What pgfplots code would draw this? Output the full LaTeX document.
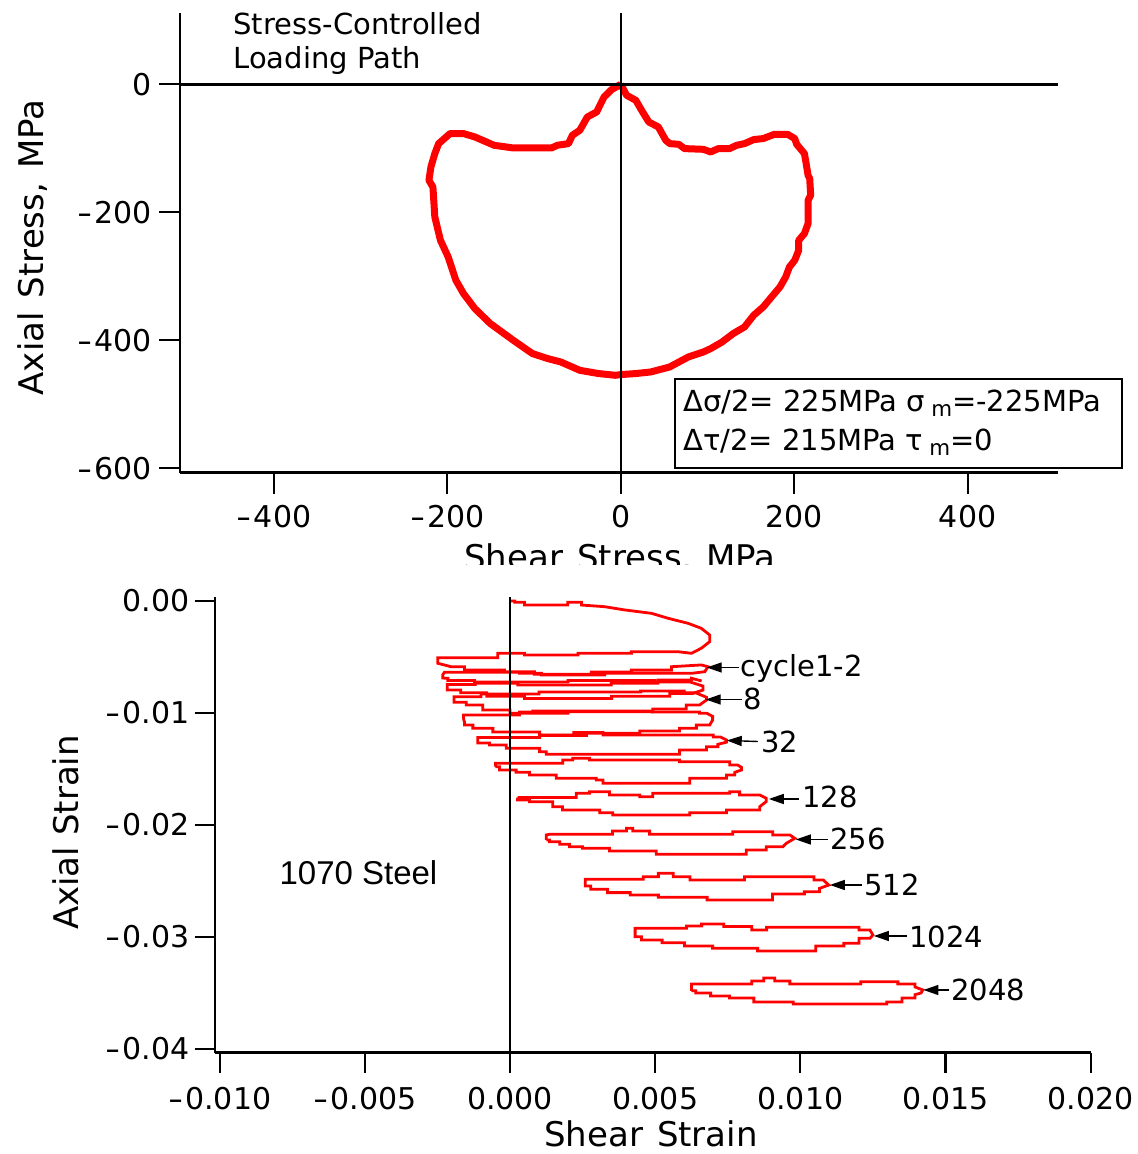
\documentclass[border=0pt]{standalone}
\usepackage{fontspec}
\setmainfont{DejaVu Sans}
\newfontfamily\steelfont{Liberation Sans}
\usepackage{graphicx}
\usepackage{pgfplots}
\pgfplotsset{compat=1.18}
\usetikzlibrary{arrows.meta}
% wide minus used in the tick labels
\newcommand{\mn}{\scalebox{1.4}[1]{-}\kern1pt}
\newcommand{\tfont}{\fontsize{15}{18}\selectfont}
\newcommand{\lfont}{\fontsize{17}{20}\selectfont}
\newcommand{\afont}{\fontsize{14.5}{17}\selectfont}
\begin{document}
\begin{tikzpicture}
\useasboundingbox (0pt,0pt) rectangle (568.5pt,577pt);

% ---------------- stress path ----------------
\begin{axis}[
  at={(90pt,340.65pt)}, anchor=south west,
  scale only axis, width=438.75pt, height=230pt,
  xmin=-508.4, xmax=503.7, ymin=-606.9, ymax=111.9,
  axis x line*=bottom, axis y line*=left,
  axis line style={line width=1.3pt},
  tick align=outside, major tick length=10.5pt,
  tick style={line width=1.1pt,black},
  xtick={-400,-200,0,200,400},
  xticklabels={\mn400,\mn200,0,200,400},
  ytick={-600,-400,-200,0},
  yticklabels={\mn600,\mn400,\mn200,0},
  tick label style={font=\tfont},
  xticklabel style={yshift=-2pt},
  clip=false,
]
\addplot[red, line width=3.5pt, line join=round] coordinates {
(0,0) (6.7,-17.2) (17.3,-25) (24,-40.6) (32.3,-58.9) (43.3,-66.7) (51.9,-87.5)
(56.5,-92.7) (66.9,-93.8) (73.5,-100.5) (95.2,-101.6) (103.7,-105.8) (112.4,-100.5)
(125.4,-100.5) (133.7,-95.3) (142.7,-92.7) (153.3,-86.4) (164.3,-84.8) (177.2,-78.1)
(192.3,-78.1) (200.6,-84.8) (202.9,-93.8) (211.8,-108.3) (213.8,-123.9) (216,-142.2)
(217.9,-147.3) (219,-173.4) (216,-181.3) (216,-217.7) (211.8,-233.3) (205.2,-243.8)
(205.2,-259.4) (200.6,-275) (194.5,-285.5) (190.2,-301.1) (183.6,-316.7) (177.2,-327)
(164.3,-347.9) (153.3,-360.9) (142.7,-379.2) (129.7,-389.5) (116.8,-402.7) (103.7,-413)
(95.2,-418.3) (77.9,-426.1) (56.4,-441.7) (34.6,-449.5) (17.3,-452) (0.2,-453.6)
(-6.3,-454.7) (-25.7,-452) (-47.3,-446.9) (-69.2,-433.9) (-84.3,-428.6) (-101.9,-420.8)
(-124,-400) (-150.5,-373.9) (-168.3,-350.5) (-181.4,-327) (-190.2,-306.3) (-199.1,-269.8)
(-208,-243.8) (-214.5,-207.3) (-216.7,-160.5) (-221.3,-150) (-219,-129.2) (-214.5,-108.3)
(-210.1,-92.7) (-196.9,-77) (-181.4,-77) (-168.3,-82.3) (-146.1,-95.3) (-124,-99.5)
(-79.9,-99.5) (-73.2,-95.3) (-60.3,-92.7) (-55.9,-79.7) (-47.3,-71.9) (-38.6,-51.1)
(-27.9,-43.3) (-19.3,-19.8) (-10.6,-8.3) (0,0)};
\addplot[black, line width=1.1pt] coordinates {(0,-606.9) (0,111.9)};
\addplot[black, line width=1.3pt] coordinates {(-508.4,0) (503.7,0)};
\end{axis}

% labels of the stress path
\node[rotate=90, font=\lfont] at (16.5pt,453.25pt) {Axial\hspace{7pt}Stress,\hspace{7pt}MPa};
\begin{scope}
  \clip (200pt,294.5pt) rectangle (420pt,320pt);
  \node[anchor=base, font=\lfont] at (310pt,292pt) {Shear\hspace{7pt}Stress,\hspace{7pt}MPa};
\end{scope}
\node[anchor=base west, inner sep=0pt, font=\afont] at (116.5pt,559.85pt) {Stress-Controlled};
\node[anchor=base west, inner sep=0pt, font=\afont] at (116.5pt,542.85pt) {Loading Path};
\draw[line width=1pt, fill=white] (337.5pt,343pt) rectangle (561pt,387.5pt);
\node[anchor=base west, inner sep=0pt, font=\afont] at (341.5pt,371pt)
  {Δσ/2= 225MPa σ\kern3pt\raisebox{-2.3pt}{\fontsize{10.7}{12}\selectfont m}=-225MPa};
\node[anchor=base west, inner sep=0pt, font=\afont] at (341.5pt,351.5pt)
  {Δτ/2= 215MPa τ\kern3pt\raisebox{-2.3pt}{\fontsize{10.7}{12}\selectfont m}=0};

% ---------------- strain response ----------------
\begin{axis}[
  at={(107.3pt,50.75pt)}, anchor=south west,
  scale only axis, width=438pt, height=227.75pt,
  xmin=-0.010176, xmax=0.0200, ymin=-0.040313, ymax=0.000357,
  axis x line*=bottom, axis y line*=left,
  axis line style={line width=1.1pt},
  x axis line style={line width=1.3pt},
  tick align=outside, major tick length=10pt,
  tick style={line width=1.1pt,black},
  scaled ticks=false,
  xtick={-0.01,-0.005,0,0.005,0.01,0.015,0.02},
  xticklabels={\mn0.010,\mn0.005,0.000,0.005,0.010,0.015,0.020},
  ytick={-0.04,-0.03,-0.02,-0.01,0},
  yticklabels={\mn0.04,\mn0.03,\mn0.02,\mn0.01,0.00},
  tick label style={font=\tfont},
  xticklabel style={yshift=-4pt},
  yticklabel style={xshift=1pt},
  clip=false,
]
% cycles 1-2
\addplot[red, line width=1.4pt] coordinates {
(0,0) (0.00016,0) (0.00016,-0.00012) (0.00050,-0.00012) (0.00050,-0.00036) (0.00199,-0.00036)
(0.00199,-0.00012) (0.00246,-0.00012) (0.00246,-0.00036) (0.00326,-0.00051) (0.00395,-0.00080)
(0.00487,-0.00110) (0.00544,-0.00154) (0.00613,-0.00199) (0.00659,-0.00244) (0.00688,-0.00304)
(0.00688,-0.00363) (0.00659,-0.00422) (0.00625,-0.00467) (0.00579,-0.00453) (0.00418,-0.00453)
(0.00418,-0.00467) (0.00234,-0.00467) (0.00234,-0.00482) (0.00050,-0.00482) (0.00050,-0.00467)
(-0.00042,-0.00467) (-0.00042,-0.00506) (-0.00249,-0.00506) (-0.00249,-0.00556) (-0.00203,-0.00587)
(-0.00157,-0.00587) (-0.00157,-0.00616) (-0.00019,-0.00616) (-0.00019,-0.00631) (0.00084,-0.00631)
(0.00084,-0.00654) (0.00280,-0.00654) (0.00280,-0.00635) (0.00418,-0.00635) (0.00418,-0.00616)
(0.00556,-0.00616) (0.00556,-0.00587) (0.00659,-0.00571) (0.00682,-0.00587) (0.00671,-0.00631)
(0.00625,-0.00646) (0.00326,-0.00646) (0.00326,-0.00661) (0.00108,-0.00661) (0.00108,-0.00646)
(0.00033,-0.00646) (0.00033,-0.00637) (-0.00226,-0.00637) (-0.00232,-0.00661) (-0.00232,-0.00688)
(-0.00214,-0.00690) (-0.00214,-0.00710) (-0.00122,-0.00710) (-0.00122,-0.00735) (0.00027,-0.00735)
(0.00027,-0.00750) (0.00349,-0.00750) (0.00349,-0.00735) (0.00510,-0.00735) (0.00510,-0.00705)
(0.00625,-0.00705) (0.00625,-0.00690) (0.00660,-0.00714)};
% cycle 4
\addplot[red, line width=1.4pt] coordinates {
(-0.00216,-0.00770) (-0.00216,-0.00745) (-0.00120,-0.00745) (-0.00120,-0.00723) (0.00200,-0.00723)
(0.00200,-0.00710) (0.00500,-0.00710) (0.00500,-0.00723) (0.00620,-0.00723) (0.00665,-0.00760)
(0.00665,-0.00795) (0.00630,-0.00825) (0.00550,-0.00825) (0.00550,-0.00850) (0.00350,-0.00850)
(0.00350,-0.00870) (0.00050,-0.00870) (0.00050,-0.00850) (-0.00080,-0.00850) (-0.00080,-0.00820)
(-0.00170,-0.00820) (-0.00170,-0.00795) (-0.00216,-0.00795) (-0.00216,-0.00770)};
% cycle 8
\addplot[red, line width=1.4pt] coordinates {
(-0.00193,-0.00895) (-0.00193,-0.00855) (-0.00100,-0.00855) (-0.00100,-0.00830) (0.00100,-0.00830)
(0.00100,-0.00813) (0.00450,-0.00813) (0.00450,-0.00804) (0.00600,-0.00804) (0.00600,-0.00820)
(0.00640,-0.00820) (0.00677,-0.00860) (0.00677,-0.00884) (0.00653,-0.00929) (0.00607,-0.00929)
(0.00607,-0.00964) (0.00492,-0.00964) (0.00492,-0.00988) (0.00200,-0.00988) (0.00200,-0.01003)
(0.00000,-0.01003) (0.00000,-0.00973) (-0.00094,-0.00973) (-0.00094,-0.00929) (-0.00151,-0.00929)
(-0.00151,-0.00905) (-0.00193,-0.00905) (-0.00193,-0.00895)};
% cycle 16
\addplot[red, line width=1.4pt] coordinates {
(-0.00160,-0.01055) (-0.00160,-0.01018) (0.00033,-0.01018) (0.00033,-0.00991) (0.00078,-0.00991)
(0.00078,-0.00982) (0.00491,-0.00982) (0.00491,-0.00991) (0.00653,-0.00991) (0.00653,-0.01003)
(0.00678,-0.01003) (0.00698,-0.01030) (0.00698,-0.01063) (0.00688,-0.01107) (0.00642,-0.01107)
(0.00642,-0.01137) (0.00584,-0.01137) (0.00584,-0.01161) (0.00447,-0.01161) (0.00447,-0.01181)
(0.00263,-0.01181) (0.00263,-0.01200) (0.00102,-0.01200) (0.00102,-0.01170) (-0.00059,-0.01170)
(-0.00059,-0.01137) (-0.00128,-0.01137) (-0.00128,-0.01107) (-0.00157,-0.01107) (-0.00157,-0.01078)
(-0.00160,-0.01055)};
% cycle 32
\addplot[red, line width=1.4pt] coordinates {
(-0.00111,-0.01245) (-0.00111,-0.01219) (0.00102,-0.01219) (0.00102,-0.01196) (0.00220,-0.01196)
(0.00220,-0.01175) (0.00320,-0.01175) (0.00320,-0.01196) (0.00700,-0.01196) (0.00700,-0.01214)
(0.00725,-0.01214) (0.00746,-0.01241) (0.00746,-0.01260) (0.00716,-0.01280) (0.00716,-0.01301)
(0.00677,-0.01301) (0.00677,-0.01330) (0.00584,-0.01330) (0.00584,-0.01369) (0.00125,-0.01369)
(0.00125,-0.01346) (0.00102,-0.01346) (0.00102,-0.01315) (-0.00013,-0.01315) (-0.00013,-0.01286)
(-0.00071,-0.01286) (-0.00071,-0.01268) (-0.00111,-0.01268) (-0.00111,-0.01245)};
% cycle 64
\addplot[red, line width=1.4pt] coordinates {
(-0.00050,-0.01480) (-0.00050,-0.01449) (0.00182,-0.01449) (0.00182,-0.01420) (0.00216,-0.01420)
(0.00216,-0.01404) (0.00274,-0.01404) (0.00274,-0.01420) (0.00584,-0.01420) (0.00584,-0.01435)
(0.00757,-0.01435) (0.00757,-0.01464) (0.00784,-0.01464) (0.00797,-0.01485) (0.00797,-0.01509)
(0.00774,-0.01530) (0.00774,-0.01554) (0.00746,-0.01554) (0.00746,-0.01583) (0.00619,-0.01583)
(0.00619,-0.01628) (0.00320,-0.01628) (0.00320,-0.01598) (0.00297,-0.01598) (0.00297,-0.01583)
(0.00159,-0.01583) (0.00159,-0.01554) (0.00067,-0.01554) (0.00067,-0.01530) (0.00021,-0.01530)
(0.00021,-0.01509) (-0.00036,-0.01509) (-0.00036,-0.01480) (-0.00050,-0.01480)};
% cycle 128
\addplot[red, line width=1.4pt] coordinates {
(0.00026,-0.01755) (0.00228,-0.01755) (0.00228,-0.01717) (0.00274,-0.01717) (0.00274,-0.01703)
(0.00343,-0.01703) (0.00343,-0.01732) (0.00447,-0.01732) (0.00447,-0.01747) (0.00492,-0.01747)
(0.00492,-0.01717) (0.00757,-0.01717) (0.00757,-0.01703) (0.00791,-0.01703) (0.00791,-0.01732)
(0.00860,-0.01732) (0.00883,-0.01762) (0.00883,-0.01790) (0.00860,-0.01837) (0.00860,-0.01866)
(0.00746,-0.01866) (0.00746,-0.01890) (0.00619,-0.01890) (0.00619,-0.01911) (0.00354,-0.01911)
(0.00354,-0.01890) (0.00309,-0.01890) (0.00309,-0.01866) (0.00181,-0.01866) (0.00181,-0.01837)
(0.00147,-0.01837) (0.00147,-0.01792) (0.00067,-0.01792) (0.00067,-0.01777) (0.00026,-0.01777)
(0.00026,-0.01755)};
% cycle 256
\addplot[red, line width=1.4pt] coordinates {
(0.00125,-0.02134) (0.00125,-0.02089) (0.00136,-0.02083) (0.00353,-0.02083) (0.00353,-0.02054)
(0.00401,-0.02054) (0.00401,-0.02029) (0.00423,-0.02029) (0.00423,-0.02054) (0.00481,-0.02054)
(0.00481,-0.02083) (0.00767,-0.02083) (0.00767,-0.02060) (0.00905,-0.02060) (0.00905,-0.02089)
(0.00964,-0.02089) (0.00981,-0.02119) (0.00952,-0.02163) (0.00940,-0.02194) (0.00883,-0.02194)
(0.00883,-0.02223) (0.00814,-0.02223) (0.00814,-0.02262) (0.00504,-0.02262) (0.00504,-0.02232)
(0.00343,-0.02232) (0.00343,-0.02208) (0.00250,-0.02208) (0.00250,-0.02194) (0.00205,-0.02194)
(0.00205,-0.02172) (0.00171,-0.02172) (0.00171,-0.02149) (0.00136,-0.02149) (0.00136,-0.02134)
(0.00125,-0.02134)};
% cycle 512
\addplot[red, line width=1.4pt] coordinates {
(0.00259,-0.02536) (0.00259,-0.02485) (0.00459,-0.02485) (0.00459,-0.02462) (0.00511,-0.02462)
(0.00511,-0.02431) (0.00562,-0.02431) (0.00562,-0.02462) (0.00620,-0.02462) (0.00620,-0.02491)
(0.00808,-0.02491) (0.00808,-0.02462) (0.01047,-0.02462) (0.01047,-0.02491) (0.01079,-0.02491)
(0.01098,-0.02536) (0.01066,-0.02566) (0.01066,-0.02596) (0.01014,-0.02596) (0.01014,-0.02616)
(0.00904,-0.02616) (0.00904,-0.02670) (0.00679,-0.02670) (0.00679,-0.02646) (0.00511,-0.02646)
(0.00511,-0.02625) (0.00414,-0.02625) (0.00414,-0.02604) (0.00336,-0.02604) (0.00336,-0.02574)
(0.00278,-0.02574) (0.00278,-0.02545) (0.00259,-0.02545) (0.00259,-0.02536)};
% cycle 1024
\addplot[red, line width=1.4pt] coordinates {
(0.00431,-0.02982) (0.00431,-0.02922) (0.00608,-0.02922) (0.00608,-0.02902) (0.00660,-0.02902)
(0.00660,-0.02884) (0.00736,-0.02884) (0.00736,-0.02907) (0.00833,-0.02907) (0.00833,-0.02938)
(0.00884,-0.02938) (0.00884,-0.02913) (0.01202,-0.02913) (0.01202,-0.02938) (0.01240,-0.02938)
(0.01250,-0.02982) (0.01240,-0.03012) (0.01202,-0.03012) (0.01202,-0.03056) (0.01150,-0.03056)
(0.01150,-0.03080) (0.01053,-0.03080) (0.01053,-0.03125) (0.00853,-0.03125) (0.00853,-0.03101)
(0.00698,-0.03101) (0.00698,-0.03080) (0.00601,-0.03080) (0.00601,-0.03051) (0.00524,-0.03051)
(0.00524,-0.03027) (0.00453,-0.03027) (0.00453,-0.02997) (0.00431,-0.02997) (0.00431,-0.02982)};
% cycle 2048
\addplot[red, line width=1.4pt] coordinates {
(0.00625,-0.03480) (0.00625,-0.03420) (0.00833,-0.03420) (0.00833,-0.03393) (0.00874,-0.03393)
(0.00874,-0.03366) (0.00912,-0.03366) (0.00912,-0.03393) (0.00964,-0.03393) (0.00964,-0.03420)
(0.01208,-0.03420) (0.01208,-0.03400) (0.01336,-0.03400) (0.01336,-0.03420) (0.01395,-0.03420)
(0.01395,-0.03446) (0.01422,-0.03473) (0.01416,-0.03500) (0.01395,-0.03515) (0.01395,-0.03545)
(0.01350,-0.03545) (0.01350,-0.03580) (0.01298,-0.03580) (0.01298,-0.03598) (0.00976,-0.03598)
(0.00976,-0.03580) (0.00840,-0.03580) (0.00840,-0.03545) (0.00756,-0.03545) (0.00756,-0.03527)
(0.00691,-0.03527) (0.00691,-0.03500) (0.00640,-0.03500) (0.00640,-0.03480) (0.00625,-0.03480)};
\addplot[black, line width=1pt] coordinates {(0,-0.040313) (0,0.000357)};

% cycle markers
\tikzset{cyc/.style={-{Triangle[length=7.5pt,width=5pt]}, line width=0.7pt, black}}
\draw[cyc] (axis cs:0.007879,-0.005938) -- (axis cs:0.006776,-0.005938);
\draw[cyc] (axis cs:0.007983,-0.008795) -- (axis cs:0.006741,-0.008795);
\draw[cyc] (axis cs:0.008534,-0.012545) -- (axis cs:0.007466,-0.012455);
\draw[cyc] (axis cs:0.009948,-0.017679) -- (axis cs:0.008914,-0.017679);
\draw[cyc] (axis cs:0.010948,-0.021295) -- (axis cs:0.009845,-0.021295);
\draw[cyc] (axis cs:0.012121,-0.025357) -- (axis cs:0.011017,-0.025357);
\draw[cyc] (axis cs:0.013672,-0.029911) -- (axis cs:0.012534,-0.029911);
\draw[cyc] (axis cs:0.015121,-0.034732) -- (axis cs:0.014241,-0.034732);
\node[anchor=base west, inner sep=0pt, font=\afont] at (axis cs:0.007914,-0.006759) {cycle1-2};
\node[anchor=base west, inner sep=0pt, font=\afont] at (axis cs:0.008017,-0.009732) {8};
\node[anchor=base west, inner sep=0pt, font=\afont] at (axis cs:0.008638,-0.013571) {32};
\node[anchor=base west, inner sep=0pt, font=\afont] at (axis cs:0.010052,-0.018455) {128};
\node[anchor=base west, inner sep=0pt, font=\afont] at (axis cs:0.011017,-0.022232) {256};
\node[anchor=base west, inner sep=0pt, font=\afont] at (axis cs:0.012190,-0.026339) {512};
\node[anchor=base west, inner sep=0pt, font=\afont] at (axis cs:0.013741,-0.030920) {1024};
\node[anchor=base west, inner sep=0pt, font=\afont] at (axis cs:0.015190,-0.035687) {2048};
\node[font=\steelfont\fontsize{16.5}{19}\selectfont] at (axis cs:-0.00522,-0.02429) {1070 Steel};
\end{axis}

\node[rotate=90, font=\lfont] at (33pt,160.75pt) {Axial\hspace{5.5pt}Strain};
\node[anchor=base, font=\lfont, inner sep=0pt] at (325.5pt,3.5pt) {Shear\hspace{7pt}Strain};
\end{tikzpicture}
\end{document}
